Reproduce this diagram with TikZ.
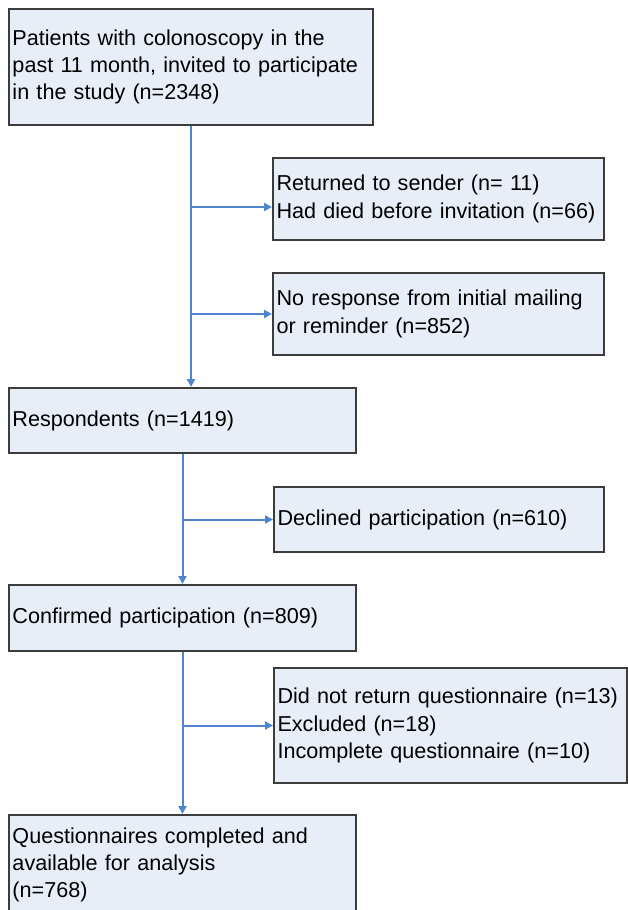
\documentclass[tikz,border=0pt]{standalone}
\usepackage{fontspec}
\setmainfont{Liberation Sans}
\usetikzlibrary{arrows.meta,calc}
\definecolor{boxfill}{HTML}{E8EEF8}
\definecolor{boxline}{HTML}{3C3C3C}
\definecolor{flowblue}{HTML}{4F84CE}
\begin{document}
\begin{tikzpicture}[x=1pt,y=-1pt,
  box/.style={draw=boxline, fill=boxfill, line width=2pt, anchor=north west,
    align=left, inner xsep=3.5pt, inner ysep=0pt,
    font=\fontsize{21.6}{27.3}\selectfont},
  flow/.style={draw=flowblue, line width=2pt,
    -{Triangle[length=8pt,width=8pt]}}]
\useasboundingbox (0,0) rectangle (628,910);
\node[box, minimum width=364pt, minimum height=116pt, text width=357pt] (b1) at (8,8)
  {\mbox{Patients with colonoscopy in the}\\\mbox{past 11 month, invited to participate}\\\mbox{in the study (n=2348)}};
\node[box, minimum width=331pt, minimum height=82pt, text width=324pt] (b2) at (272,157)
  {\mbox{Returned to sender (n= 11)}\\\mbox{Had died before invitation (n=66)}};
\node[box, minimum width=331pt, minimum height=82pt, text width=324pt] (b3) at (272,272)
  {\mbox{No response from initial mailing}\\\mbox{or reminder (n=852)}};
\node[box, minimum width=347pt, minimum height=65pt, text width=340pt] (resp) at (8,387)
  {\mbox{Respondents (n=1419)}};
\node[box, minimum width=330pt, minimum height=65pt, text width=323pt] (decl) at (273,486)
  {\mbox{Declined participation (n=610)}};
\node[box, minimum width=347pt, minimum height=66pt, text width=340pt] (conf) at (8,584)
  {\mbox{Confirmed participation (n=809)}};
\node[box, minimum width=353pt, minimum height=115pt, text width=346pt] (excl) at (273,667)
  {\mbox{Did not return questionnaire (n=13)}\\\mbox{Excluded (n=18)}\\\mbox{Incomplete questionnaire (n=10)}};
\node[box, minimum width=347pt, minimum height=100pt, text width=340pt] (fin) at (8,814)
  {\mbox{Questionnaires completed and}\\\mbox{available for analysis}\\\mbox{(n=768)}};
% connectors
\draw[flow] (b1.south) -- (b1.south |- resp.north);
\coordinate (j1) at (b1.south |- 0,207);
\coordinate (j2) at (b1.south |- b3.west);
\draw[flow] (j1) -- (j1 -| b2.west);
\draw[flow] (j2) -- (b3.west);
\draw[flow] (resp.south) -- (conf.north);
\coordinate (j3) at (resp.south |- decl.west);
\draw[flow] (j3) -- (decl.west);
\draw[flow] (conf.south) -- (fin.north);
\coordinate (j4) at (conf.south |- excl.west);
\draw[flow] (j4) -- (excl.west);
\end{tikzpicture}
\end{document}
